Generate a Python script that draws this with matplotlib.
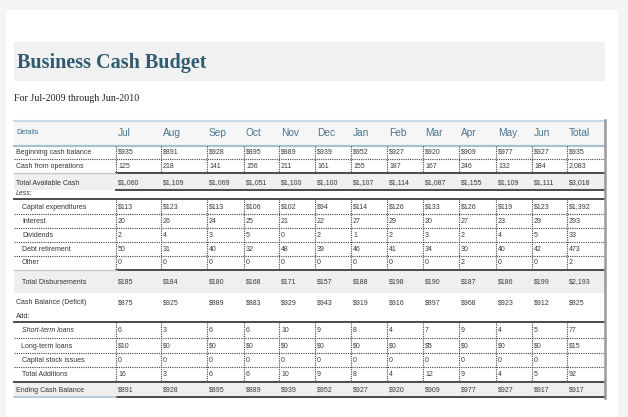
import matplotlib
matplotlib.use("Agg")
import matplotlib.pyplot as plt
from matplotlib.patches import Rectangle

# ---------------- data ----------------
title = "Business Cash Budget"
subtitle = "For Jul-2009 through Jun-2010"
months = ["Jul", "Aug", "Sep", "Oct", "Nov", "Dec", "Jan", "Feb", "Mar", "Apr", "May", "Jun", "Total"]

beginning_cash = [935, 891, 928, 895, 889, 939, 952, 927, 920, 909, 977, 927, 935]
cash_from_ops = [125, 218, 141, 156, 211, 161, 155, 187, 167, 246, 132, 184, 2083]
total_available = [1060, 1109, 1069, 1051, 1100, 1100, 1107, 1114, 1087, 1155, 1109, 1111, 3018]
capital_exp = [113, 123, 113, 106, 102, 94, 114, 126, 133, 126, 119, 123, 1392]
interest = [20, 26, 24, 25, 21, 22, 27, 29, 20, 27, 23, 29, 293]
dividends = [2, 4, 3, 5, 0, 2, 1, 2, 3, 2, 4, 5, 33]
debt_retirement = [50, 31, 40, 32, 48, 39, 46, 41, 34, 30, 40, 42, 473]
other = [0, 0, 0, 0, 0, 0, 0, 0, 0, 2, 0, 0, 2]
total_disb = [185, 184, 180, 168, 171, 157, 188, 198, 190, 187, 186, 199, 2193]
cash_balance = [875, 925, 889, 883, 929, 943, 919, 916, 897, 968, 923, 912, 825]
short_term = [6, 3, 6, 6, 10, 9, 8, 4, 7, 9, 4, 5, 77]
long_term = [10, 0, 0, 0, 0, 0, 0, 0, 5, 0, 0, 0, 15]
stock_issues = [0, 0, 0, 0, 0, 0, 0, 0, 0, 0, 0, 0, None]
total_additions = [16, 3, 6, 6, 10, 9, 8, 4, 12, 9, 4, 5, 92]
ending_cash = [891, 928, 895, 889, 939, 952, 927, 920, 909, 977, 927, 917, 917]

# ---------------- layout ----------------
W, H = 628, 417
fig = plt.figure(figsize=(W / 100, H / 100), dpi=100, facecolor="#f4f4f4")
ax = fig.add_axes([0, 0, 1, 1])
ax.set_xlim(0, W)
ax.set_ylim(H, 0)
ax.axis("off")
renderer = fig.canvas.get_renderer()

SANS = ["Liberation Sans", "DejaVu Sans"]
SERIF = ["Liberation Serif", "DejaVu Serif"]


def fit(t, target_w):
    bb = t.get_window_extent(renderer=renderer)
    t.set_fontsize(t.get_fontsize() * target_w / bb.width)


# card and title band
ax.add_patch(Rectangle((6, 10), 612, 420, facecolor="white", edgecolor="none", zorder=0))
ax.add_patch(Rectangle((14, 42), 591, 39, facecolor="#f1f1f1", edgecolor="none", zorder=1))
t = ax.text(17, 63, title, family=SERIF, weight="bold", color="#305b6e", fontsize=14,
            va="center", ha="left", zorder=3)
fit(t, 190)
t = ax.text(14, 98, subtitle, family=SERIF, color="#222222", fontsize=7, va="center", ha="left", zorder=3)
fit(t, 125)

L, R = 14, 605
col_x = [116, 161, 207, 244, 279, 315, 351, 387, 423, 459, 496, 532, 567]

# header
ax.add_patch(Rectangle((L, 120), R - L, 26, facecolor="#f6f6f6", edgecolor="none", zorder=1))
ax.plot([L, R], [120.5, 120.5], color="#c9dbe7", lw=1.5, zorder=4)
ax.plot([L, R], [146, 146], color="#a7c0d1", lw=1.6, zorder=4)
t = ax.text(16, 132, "Details", family=SANS, color="#3c7190", fontsize=5.5, va="center", zorder=3)
fit(t, 23)
hdr_fs = None
for i, m in enumerate(months):
    t = ax.text(col_x[i] + 2, 133, m, family=SANS, color="#4b7492", fontsize=6.6, va="center", zorder=3)
    if hdr_fs is None:
        fit(t, 13)
        hdr_fs = t.get_fontsize()
    else:
        t.set_fontsize(hdr_fs)

# label font size
probe = ax.text(0, -50, "Beginning cash balance", family=SANS, fontsize=5)
fit(probe, 76)
FS = probe.get_fontsize()
probe.remove()


def fmt(v, dollar):
    if v is None:
        return ""
    s = f"{v:,}"
    return "$" + s if dollar else s


# rows: (label, values, dollar, y-centre, label x, italic, kind)
rows = [
    ("Beginning cash balance", beginning_cash, True, 152, 16, False, "detail"),
    ("Cash from operations", cash_from_ops, False, 166, 16, False, "detail"),
    ("Total Available Cash", total_available, True, 183, 16, False, "total"),
    ("Capital expenditures", capital_exp, True, 207, 22, False, "detail"),
    ("Interest", interest, False, 221, 22, False, "detail"),
    ("Dividends", dividends, False, 235, 22, False, "detail"),
    ("Debt retirement", debt_retirement, False, 249, 22, False, "detail"),
    ("Other", other, False, 263, 22, False, "detail"),
    ("Total Disbursements", total_disb, True, 282, 22, False, "total"),
    ("Cash Balance (Deficit)", cash_balance, True, 303, 16, False, "total"),
    ("Short-term loans", short_term, False, 331, 22, True, "detail"),
    ("Long-term loans", long_term, True, 346, 21, False, "detail"),
    ("Capital stock issues", stock_issues, False, 360, 22, False, "detail"),
    ("Total Additions", total_additions, False, 375, 22, False, "detail"),
    ("Ending Cash Balance", ending_cash, True, 390, 16, False, "total"),
]

# grey bands
for y0, y1 in [(173, 190), (270, 293), (382, 397)]:
    ax.add_patch(Rectangle((L, y0), R - L, y1 - y0, facecolor="#efefef", edgecolor="none", zorder=1))

for label, vals, dollar, y, lx, ital, kind in rows:
    ax.text(lx, y, label, family=SANS, fontsize=FS, color="#333333", va="center",
            style="italic" if ital else "normal", zorder=3)
    for i, v in enumerate(vals):
        ax.text(col_x[i] + 2, y, fmt(v, dollar), family=SANS, fontsize=FS,
                color="#3a3a3a", va="center", zorder=3)

ax.text(16, 193.5, "Less:", family=SANS, fontsize=FS, style="italic", color="#333333", va="center", zorder=3)
ax.text(16, 316.5, "Add:", family=SANS, fontsize=FS, color="#333333", va="center", zorder=3)

DOT = dict(color="#444444", lw=0.8, ls=(0, (1, 1)), zorder=4)
SOLID = dict(color="#4a4a4a", lw=1.4, zorder=4)
LIGHT = dict(color="#c8c8c8", lw=1.0, zorder=4)

# horizontal rules
for y in [159, 214, 228, 242, 256, 338, 353, 367]:
    ax.plot([L, R], [y, y], **DOT)
for y in [173, 270]:
    ax.plot([116, R], [y, y], **SOLID)
    ax.plot([L, 116], [y, y], **LIGHT)
ax.plot([116, R], [190, 190], **SOLID)
ax.plot([L, R], [199, 199], **SOLID)
ax.plot([L, R], [322, 322], **SOLID)
ax.plot([L, R], [382, 382], **SOLID)
ax.plot([116, R], [397, 397], **SOLID)
ax.plot([L, 116], [397, 397], color="#a9c6d8", lw=1.2, zorder=4)

# vertical dotted rules in detail blocks
for y0, y1 in [(146, 173), (199, 270), (322, 382)]:
    for x in col_x:
        ax.plot([x, x], [y0, y1], **DOT)

# right border
ax.plot([R, R], [120, 397.5], color="#9a9a9a", lw=1.8, zorder=5)

fig.savefig("out.png", dpi=100, facecolor=fig.get_facecolor())
